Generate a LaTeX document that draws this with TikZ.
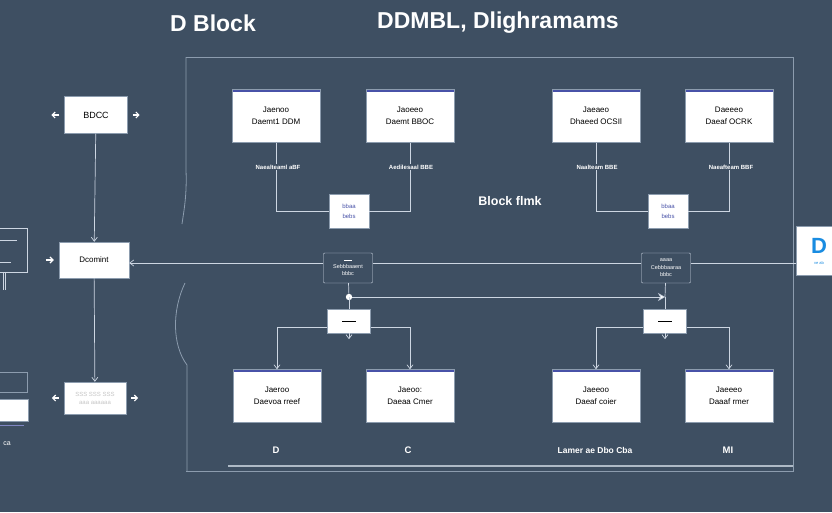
\documentclass[tikz,border=0pt]{standalone}
\usepackage{fontspec}
\setmainfont{Liberation Sans}
\usetikzlibrary{arrows.meta,positioning,calc}
\definecolor{slatebg}{RGB}{62,79,98}
\definecolor{framegray}{RGB}{140,156,174}
\definecolor{wirecol}{RGB}{205,214,226}
\definecolor{topblue}{RGB}{72,82,168}
\definecolor{dblue}{RGB}{25,140,225}

\begin{document}
\begin{tikzpicture}[x=1pt,y=-1pt,
        blk/.style={draw=framegray,fill=white,minimum width=88pt,minimum height=53pt,
                    font=\fontsize{8}{12}\selectfont,align=center,
                    path picture={\fill[topblue] (path picture bounding box.north west)
                      rectangle ([yshift=-2.5pt]path picture bounding box.north east);}},
        joinbox/.style={draw=framegray,fill=white,minimum width=40pt,minimum height=34pt,
                        font=\fontsize{6}{10}\selectfont,text=topblue,align=center},
        hubbox/.style={draw=wirecol,fill=slatebg,rounded corners=1pt,minimum width=49pt,
                       minimum height=30pt,font=\fontsize{5.5}{7.5}\selectfont,text=white,align=center},
        tagbox/.style={draw=framegray,fill=white,minimum width=43pt,minimum height=24pt,
                       font=\fontsize{5}{6}\selectfont},
        sidebox/.style={draw=framegray,fill=white,font=\fontsize{9}{11}\selectfont,align=center},
        tinylbl/.style={fill=slatebg,text=white,font=\bfseries\fontsize{6}{7}\selectfont,inner sep=1pt},
        footlbl/.style={text=white,font=\bfseries\fontsize{9.5}{11}\selectfont},
        wire/.style={draw=wirecol,line width=0.7pt},
        arr/.style={wire,-{Straight Barb[length=4pt,width=6pt]}},
        stub/.style={draw=white,line width=1.2pt,-{Straight Barb[length=3pt,width=6pt]}}]
        \clip (0,0) rectangle (832,512);
        \fill[slatebg] (0,0) rectangle (832,512);

        % titles
        \node[text=white,font=\bfseries\fontsize{23}{26}\selectfont] (ttl1) at (213,23) {D Block};
        \node[text=white,font=\bfseries\fontsize{23}{26}\selectfont] (ttl2) at (498,23) {DDMBL, Dlighramams};

        % outer frame
        \draw[framegray,line width=0.8pt] (186,57) -- (793,57) -- (793,471) -- (186,471);
        \draw[framegray!70,line width=1.5pt] (228,466) -- (793,466);
        \draw[framegray,line width=0.8pt] (186,57) -- (186,170) .. controls (187,195) and (184,210) .. (182,224);
        \draw[framegray,line width=0.8pt] (185,283) .. controls (172,310) and (172,345) .. (187,365) -- (187,471);

        % top row
        \node[blk] (b1) at (276,116) {Jaenoo\\Daemt1 DDM};
        \node[blk] (b2) at (410,116) {Jaoeeo\\Daemt BBOC};
        \node[blk] (b3) at (596,116) {Jaeaeo\\Dhaeed OCSIl};
        \node[blk] (b4) at (729,116) {Daeeeo\\Daeaf OCRK};

        \node[joinbox] (j1) at (349,211) {bbaa\\bebs};
        \node[joinbox] (j2) at (668,211) {bbaa\\bebs};
        \draw[wire] (b1) |- (j1);
        \draw[wire] (b2) |- (j1);
        \draw[wire] (b3) |- (j2);
        \draw[wire] (b4) |- (j2);
        \node[tinylbl] (l1) at (278,167) {Naealteaml aBF};
        \node[tinylbl] (l2) at (411,167) {Aedilesaal BBE};
        \node[tinylbl] (l3) at (597,167) {Naalteam BBE};
        \node[tinylbl] (l4) at (731,167) {Naeafteam BBF};

        \node[text=white,font=\bfseries\fontsize{12.5}{14}\selectfont] (mid) at (510,201) {Block flmk};

        % left column
        \node[sidebox,minimum width=63pt,minimum height=37pt] (a1) at (96,115) {BDCC};
        \node[sidebox,minimum width=70pt,minimum height=36pt,font=\fontsize{8}{9}\selectfont] (dc) at (94,260) {Dcomint};
        \node[sidebox,minimum width=62pt,minimum height=32pt,text=gray!45,font=\fontsize{6}{8}\selectfont] (a3) at (95,398) {SSS SSS SSS\\aaa aaaaaa};
        \draw[arr] (a1) -- (dc);
        \draw[arr] (dc) -- (a3);
        \draw[stub] ([xshift=-5pt]a1.west) -- ([xshift=-13pt]a1.west);
        \draw[stub] ([xshift=5pt]a1.east) -- ([xshift=12pt]a1.east);
        \draw[stub] ([xshift=-13pt]dc.west) -- ([xshift=-5pt]dc.west);
        \draw[stub] ([xshift=-5pt]a3.west) -- ([xshift=-12pt]a3.west);
        \draw[stub] ([xshift=5pt]a3.east) -- ([xshift=12pt]a3.east);

        % cropped pieces at the left edge
        \node[draw=wirecol,fill=slatebg,minimum width=40pt,minimum height=44pt] (p1) at (7,250) {};
        \draw[wirecol,line width=1pt] (p1.west) ++(0,-10) -- ++(30,0);
        \draw[wirecol,line width=1pt] (p1.west) ++(0,12) -- ++(24,0);
        \draw[wirecol] ([xshift=-2pt]p1.south) -- ++(0,18);
        \draw[wirecol] ([xshift=-4pt]p1.south) -- ++(0,18);
        \node[draw=framegray,minimum width=40pt,minimum height=20pt] (p2) at (7,382) {};
        \node[draw=framegray,fill=white,minimum width=42pt,minimum height=22pt] (p3) at (7,410) {};
        \draw[topblue!70,line width=1.2pt] (p3.south west) ++(0,4) -- ++(38,0);
        \node[text=white,font=\fontsize{7}{8}\selectfont] (p4) at (7,444) {ca};

        % right edge box
        \node[fill=white,draw=framegray,minimum width=46pt,minimum height=49pt,
              text=dblue,align=center,inner sep=1pt] (dd) at (819,251)
              {{\bfseries\fontsize{22}{22}\selectfont D\quad}\\[-1pt]{\fontsize{4}{5}\selectfont ve ab\quad}};

        % middle hubs
        \node[hubbox] (c1) at (348,268) {\rule{8pt}{0.8pt}\\Sebbbaaent\\bbbc};
        \node[hubbox] (c2) at (666,268) {aaaa\\Cebbbaaraa\\bbbc};
        \draw[wire] (dd.west |- 0,263) -- (c2.east |- 0,263);
        \draw[wire] (c2.west |- 0,263) -- (c1.east |- 0,263);
        \draw[arr] (c1.west |- 0,263) -- (dc.east |- 0,263);

        \coordinate (jd1) at (349,297);
        \coordinate (jd2) at (665,297);
        \draw[wire] (c1) -- (jd1);
        \draw[wire] (c2) -- (jd2);
        \draw[wire,-{Stealth[length=7pt,width=8pt,fill=white]}] (jd1) -- (jd2);
        \fill[white] (jd1) circle (3.2pt);

        % bottom row
        \node[blk] (b5) at (277,396) {Jaeroo\\Daevoa rreef};
        \node[blk] (b6) at (410,396) {Jaeoo:\\Daeaa Cmer};
        \node[blk] (b7) at (596,396) {Jaeeoo\\Daeaf coier};
        \node[blk] (b8) at (729,396) {Jaeeeo\\Daaaf rmer};

        \coordinate (k1) at (349,327);
        \coordinate (k2) at (665,327);
        \draw[arr] (k1) -| (b5);
        \draw[arr] (k1) -| (b6);
        \draw[arr] (k2) -| (b7);
        \draw[arr] (k2) -| (b8);

        \node[tagbox] (s1) at (349,321) {\rule{14pt}{0.6pt}};
        \node[tagbox] (s2) at (665,321) {\rule{14pt}{0.6pt}};
        \draw[wire] (jd1) -- (s1);
        \draw[wire] (jd2) -- (s2);
        \draw[arr] (s1.south) -- ++(0,6);
        \draw[arr] (s2.south) -- ++(0,6);

        \node[footlbl] (f1) at (276,450) {D};
        \node[footlbl] (f2) at (408,450) {C};
        \node[footlbl,font=\bfseries\fontsize{8.5}{10}\selectfont] (f3) at (595,450) {Lamer ae Dbo Cba};
        \node[footlbl] (f4) at (728,450) {MI};
      \end{tikzpicture}
\end{document}
